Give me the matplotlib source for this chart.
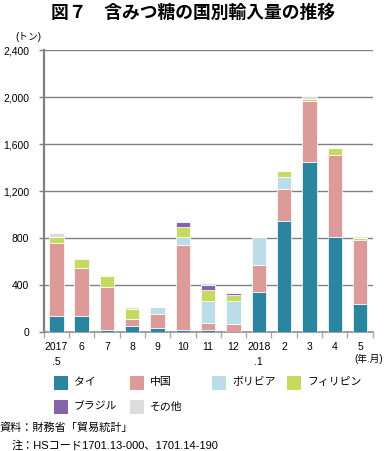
import matplotlib.pyplot as plt
from matplotlib.patches import Rectangle
from matplotlib.ticker import FuncFormatter

plt.rcParams["font.family"] = ["Liberation Sans", "Noto Sans CJK JP"]

months = ["2017\n.5", "6", "7", "8", "9", "10", "11", "12", "2018\n.1", "2", "3", "4", "5"]
series_names = ["タイ", "中国", "ボリビア", "フィリピン", "ブラジル", "その他"]
tai = [141, 136, 20, 56, 39, 20, 18, 0, 346, 947, 1452, 811, 244]
china = [622, 414, 368, 60, 119, 720, 59, 71, 229, 273, 511, 698, 542]
bolivia = [0, 0, 0, 0, 55, 74, 192, 198, 234, 104, 0, 0, 0]
philippines = [51, 76, 94, 82, 0, 85, 91, 46, 0, 46, 23, 62, 17]
brazil = [0, 0, 0, 0, 0, 42, 40, 19, 0, 0, 0, 0, 0]
others = [29, 5, 4, 20, 0, 8, 17, 5, 0, 0, 23, 0, 0]
colors = ["#2a859e", "#dc9a98", "#bcdce8", "#c5da5e", "#8464a8", "#dcdcdc"]

W, H = 386, 451
fig = plt.figure(figsize=(W / 100, H / 100), dpi=100)
ax = fig.add_axes([43.7 / W, 1 - 332.3 / H, 329 / W, 282.3 / H])

x = list(range(len(months)))
bottom = [0] * len(months)
for name, vals, c in zip(series_names, [tai, china, bolivia, philippines, brazil, others], colors):
    ax.bar(x, vals, width=0.57, bottom=bottom, color=c, edgecolor="white",
           linewidth=0.5, label=name, zorder=3)
    bottom = [b + v for b, v in zip(bottom, vals)]

ax.set_xlim(-0.5, len(months) - 0.5)
ax.set_ylim(0, 2400)
ax.set_yticks(range(0, 2401, 400))
ax.yaxis.set_major_formatter(FuncFormatter(lambda v, p: f"{int(v):,}"))
ax.grid(axis="y", color="#808080", linewidth=1, zorder=0)
ax.set_xticks(x)
ax.set_xticklabels(months, fontsize=7.5, linespacing=1.6, va="top")
ax.set_xticks([i - 0.5 for i in range(len(months) + 1)], minor=True)
ax.tick_params(axis="x", which="major", length=0, pad=7)
ax.tick_params(axis="x", which="minor", length=4, width=1, color="#aaaaaa")
ax.tick_params(axis="y", length=3.5, width=1, color="#808080", labelsize=7.5, pad=7)
for s in ["top", "right"]:
    ax.spines[s].set_visible(False)
ax.spines["left"].set_color("#808080")
ax.spines["left"].set_linewidth(1.6)
ax.spines["bottom"].set_color("#909090")
ax.spines["bottom"].set_linewidth(1.2)

fig.text(0.5, 1 - 13 / H, "図７　含みつ糖の国別輸入量の推移", ha="center", va="center",
         fontsize=12.8, fontweight="bold")
fig.text(28 / W, 1 - 37 / H, "(トン)", ha="center", va="center", fontsize=7)
fig.text(369 / W, 1 - 359 / H, "(年.月)", ha="center", va="center", fontsize=7)

# legend, drawn by hand to keep the column grid
col_x = [54, 130, 212, 287]
row_y = [382.5, 406.5]
for i, (name, c) in enumerate(zip(series_names, colors)):
    cx, cy = col_x[i % 4], row_y[i // 4]
    fig.patches.append(Rectangle((cx / W, 1 - (cy + 7) / H), 14 / W, 14 / H,
                                 transform=fig.transFigure, facecolor=c, edgecolor="none"))
    fig.text((cx + 20) / W, 1 - cy / H, name, ha="left", va="center", fontsize=7.8)

fig.text(0, 1 - 428 / H, "資料：財務省「貿易統計」", ha="left", va="center", fontsize=8)
fig.text(12 / W, 1 - 446 / H, "注：HSコード1701.13-000、1701.14-190", ha="left", va="center",
         fontsize=8)

fig.savefig("out.png", dpi=100)
